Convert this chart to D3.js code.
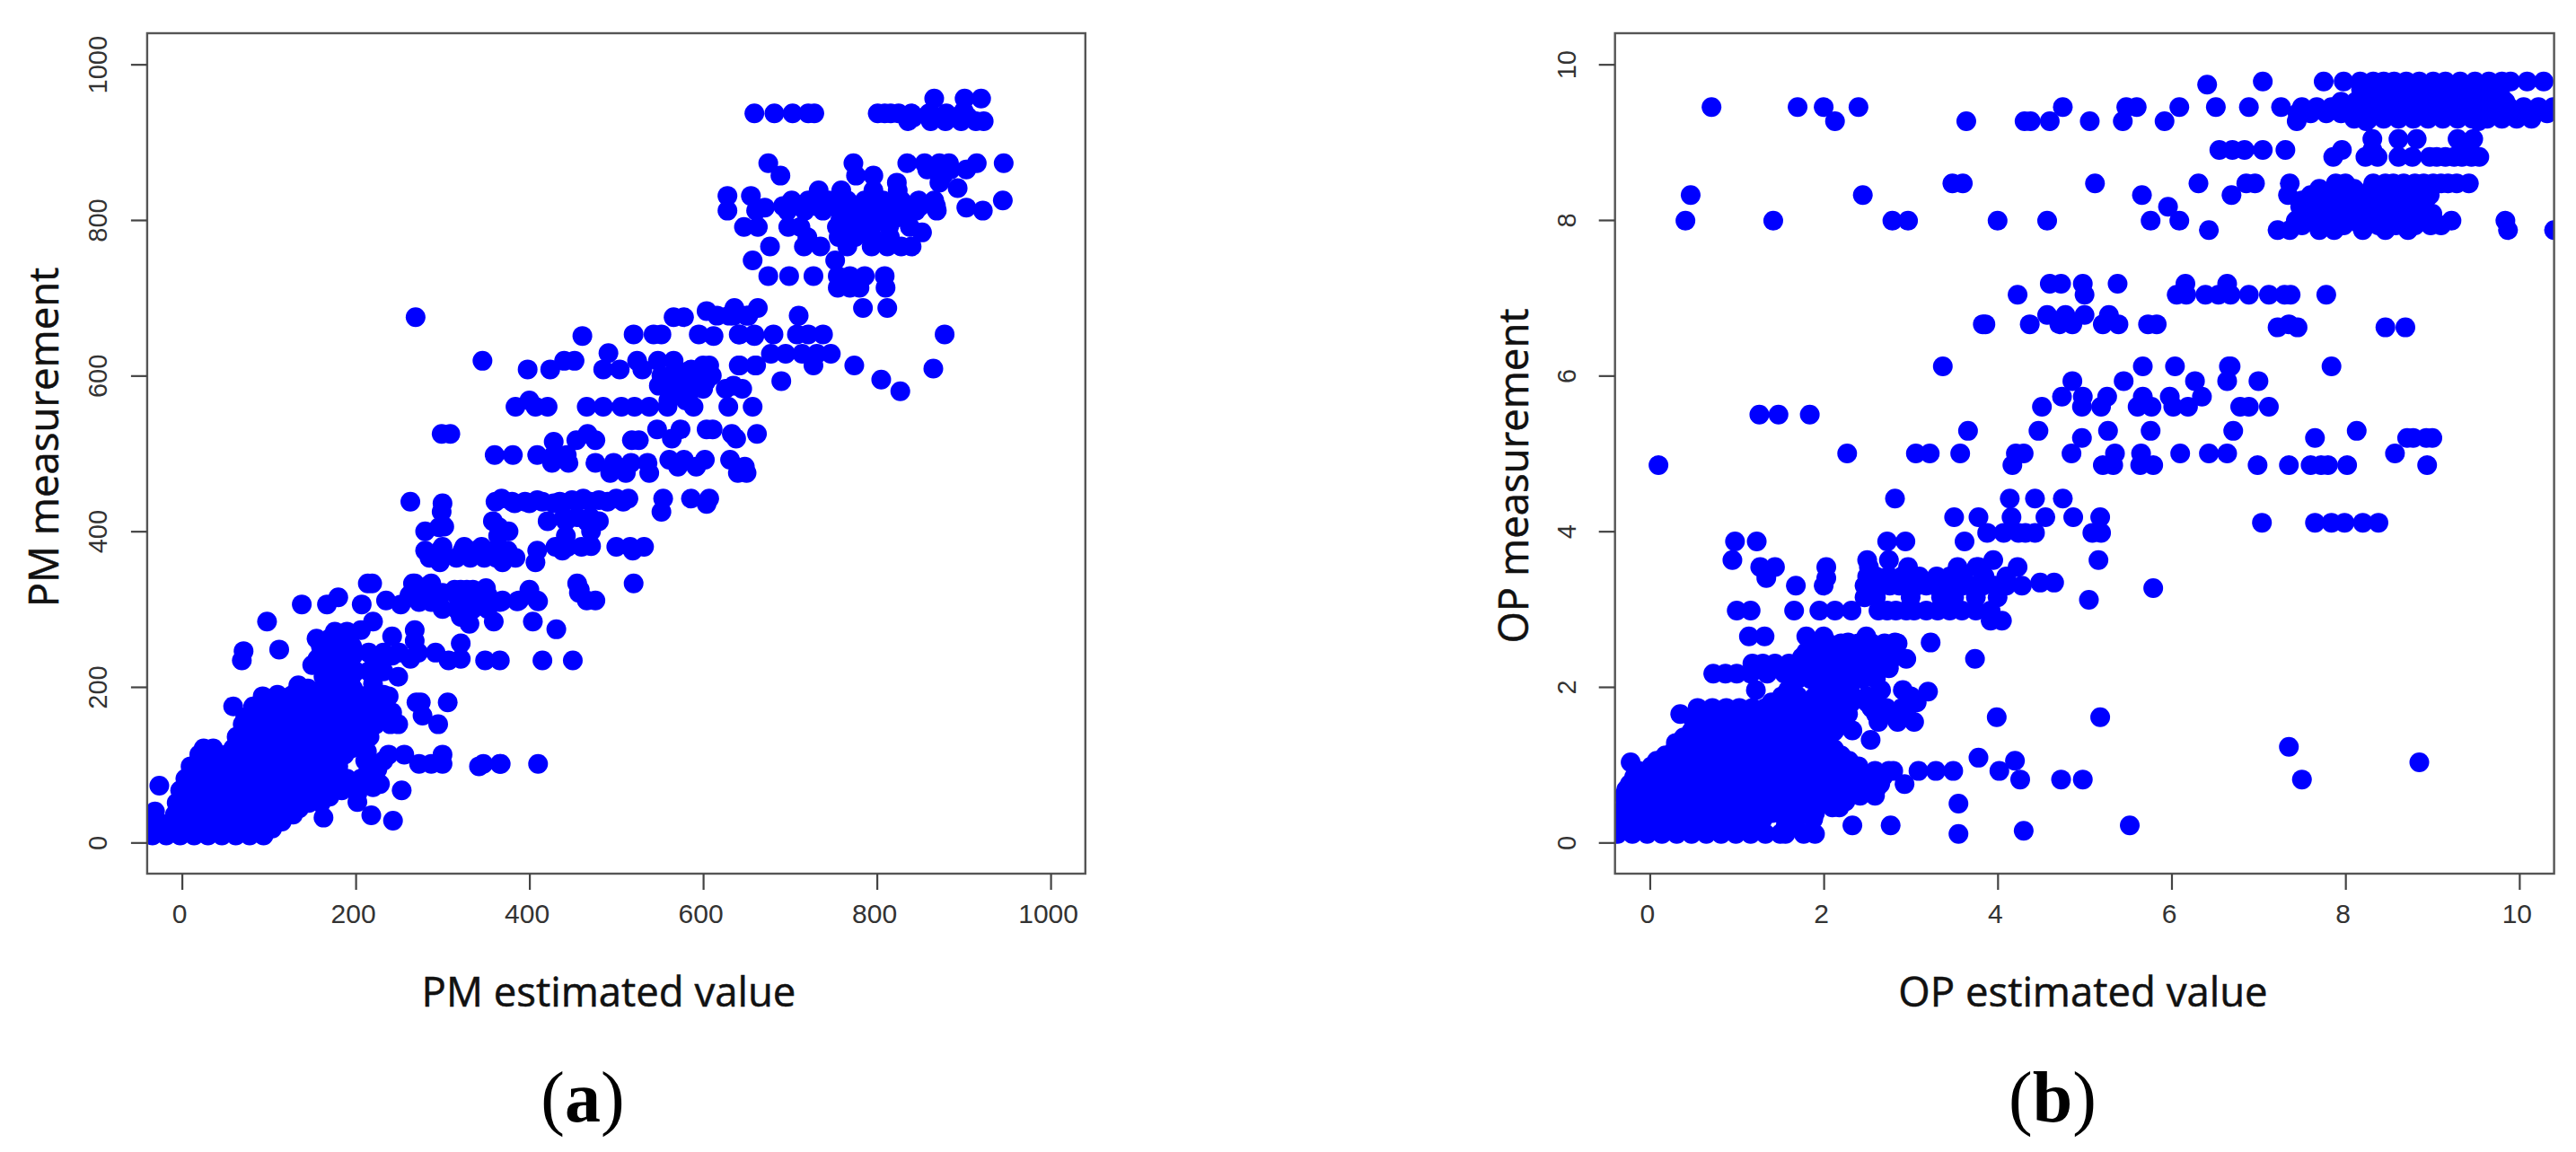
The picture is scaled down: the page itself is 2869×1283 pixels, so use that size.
<!DOCTYPE html>
<html><head><meta charset="utf-8">
<script src="https://cdnjs.cloudflare.com/ajax/libs/d3/7.8.5/d3.min.js"></script>
<style>html,body{margin:0;padding:0;background:#fff}svg{display:block}</style>
</head><body><svg id="c" width="2869" height="1283"></svg>
<script>
// tick labels
const pmTicks = [0,200,400,600,800,1000];
const opTicks = [0,2,4,6,8,10];
// PM: measurement levels and the estimated values seen at each level
const pmMeasured = [956,940,937,927,873,857,848,841,838,831,825,816,812,791,784,766,748,728,713,687,683,677,675,653,651,629,628,619,613,609,608,595,593,587,583,580,575,560,531,525,519,517,515,498,492,488,483,475,442,440,438,436,435,425,413,406,400,394,381,375,360,333,331,327,325,321,315,311,310,309,306,290,284,281,274,273,271,265,262,259,256,248,246,244,240,236,234,228,213,206,204,202,198,194,188,186,182,180,179,175,167,163,161,152,136,121,117,113,105,101,98,94,90,75,73,71,67,63,59,52,44,40,35,32,28,27,9,
 818,800,778,720,600,592,568,366,380,318,300,244,252,220,190,175,160,144,128,113,98,82,67,51,36,18,932,865,438,418,405];
const pmEstimated = [
[866,901,920],[900],[659,682,703,721,728,801,809,816,825,840,860,880],[836,862,879,897,914,923],
[675,773,835,855,872,883,915,946],[689,776,796,876],[823,872],[893],[733,759,796,824],[628,655],
[702,721,745,766,786,807,828,848,866,945],[671,903],[628,661,697,717,738,759,780,800,821,845,869,922],
[647,663,698,712,754,772,793,814,838],[852],[677,716,735,766,794,812,828,840],[657,752],[675,699,727,755,769,786,809],
[755,769,780,810],[636,663,784,812],[604],[616,635,652,630,650,710],[269,566,578],
[641,681,708,721,738,878,520,543,552,595,642,659],[461,612,659],[491],[678,695,714,731,747],
[346,440,452,524,548,566],[641,661,727,774,600,607,642,660],[865],[398,424,485,504,530,569,586,605],[805,600],[690],
[549,635],[566,583,600,626,645],[827],[566,583],[384,407,421,466,485,506,521,538,559,589,629,657],
[547,574,604,611],[299,309,467,633,662],[564,638],[454,476,518,526],[428],[360,381,409,428,443],[561,578,602,631],
[426,445,476,497,517,536],[571,592,648],[493,511,538,640,650],[368,462,500,514,554,586,607],[409,449,480],[263,361],
[300,383,400,428],[604],[299,552],[358,421,442,466,480],[302],[280,376,471],[364,442],[471],
[280,297,323,338,359,375,409,438,519],[297,369,407],[268,287,455,520,214,219,266],[285],[350],[321,335,400,314,328,458],
[300,457],[180],[369,388,409,466,476,235],[368,386,410],[273,287,321,345,366],[138,167,207,252],[321],[98,220,359,404],[331],
[431],[206,268],[176,190],[242],[155,170,185],[268],[321],[112,161],[71],[292],[176,197,242],[156,221,263,321],
[69,307,349,366,415,450],[150,165,180],[163,249,180,195],[180],[220],[134],[197,145,165],[156],[93,238,125,142,159,176,193,210,227],
[176],[108],[275,306,270],[204],[59,94,225],[122,139,156,173,190,207,224,242],[277],[73],
[70,87,104,121,138,155,172,189,206,223,240,249,295],[63,80,97,114,131,148,165,182,199,216],
[59,76,93,110,127,144,161,178,195,25,36],[213],[238,256,300],[25,42,59,76,93,110,127,144,161,178,211,232],
[273,287,300,347,366,410,367],[342],[225],[13,30,47,64,81,98,115,132,149,166,180,214],
[6,23,40,57,74,91,108,125,142,159,176,193,210,228],[-26],[220,180],[253],[202],[1,18,35,52,69,86,103,120,137,154,170],
[202,142],[1,18,35,52,69,86,103,120,135],[-31],[218,121],[163],[243,108],[-44,-28,-12,4,20,36,52,68,84,100,115],
[-34,-18,-2,14,30,46,62,78,94],
[692,710,730,750,770,790,810,830,850,868],[758,778,798,818,835],[720,756,775,795,815],[762,775],[552,566,580,595,610],[556,572,590,603],[400,560,580],
[285,300,316,332,348,362,384],[300,325,345,430,444,460,500,516,532],[262,280,298,316,334,352],[300,316,335,352],[215,232,250,272],[160,178,196],[170,186,200,215,232],
[110,128,145,162,180,198,215,232],[82,98,114,131,148,165,182,199,216,233],[78,95,112,129,146,163,180,197,214,231],
[72,89,106,123,140,157,174,191,208],[68,85,102,119,136,153,170,187,204],[20,35,51,68,85,102,119,136,153,170,187],
[10,27,44,61,78,95,112,129,146,163,180],[4,20,37,54,71,88,105,122,139,156,173,190,206],[-2,15,32,49,66,83,100,117,134,151,168,184],
[-6,10,27,44,61,78,95,112,129,146,160],[-8,10,27,44,61,78,95,112,128],[-40,-24,-8,8,24,40,56,72,88,104],
[842,870,888,905],[858,868,885,903],[380,395,415,435,455,470,490,508],[440,455,470],[296,365]
];
// OP: measurement levels and the estimated values seen at each level
const opMeasured = [9.78,9.74,9.68,9.58,9.45,9.3,9.27,9.04,8.95,8.9,8.81,8.47,8.32,8.17,7.99,7.87,7.18,7.04,6.78,6.66,6.62,6.12,5.93,5.73,5.6,5.5,5.29,5.2,5.0,4.85,4.42,4.18,4.11,3.98,3.87,3.63,3.54,3.4,3.34,3.3,3.27,3.12,2.98,2.85,2.65,2.57,2.45,2.36,2.3,2.17,1.96,1.94,1.8,1.65,1.61,1.55,1.5,1.44,1.35,1.32,1.23,1.2,1.09,1.05,1.03,0.92,0.81,0.75,0.6,0.5,0.45,0.3,0.22,0.15,0.11,
 9.72,9.62,9.52,9.37,8.4,8.25,8.08,7.93,3.42,3.15,2.56,2.38,2.24,2.1,1.88,1.73,1.58,1.43,1.28,1.12,0.98,0.84,0.68,0.53,0.38,0.28,0.2,8.47,3.3,2.98,8.81];
const opEstimated = [
[7.05,7.75,7.98,8.17,8.32,8.44,8.56,8.7,8.85,9.01,9.15,9.32,9.49,9.65,9.8,9.9,10.09,10.28],[6.41],
[8.18,8.35,8.5,8.65,8.8,8.95,9.1,9.25,9.4,9.55,9.7],[8.3,8.47,8.64,8.81,8.98,9.15,9.32,9.49,9.66,9.76],
[0.71,1.7,2.0,2.4,4.75,5.48,5.6,6.09,6.51,6.89,7.26,7.5,7.67,7.84,8.01,8.18,8.35,8.52,8.69,8.86,9.03,9.2,9.37,9.54,9.71,9.88,10.05,10.22,10.39],
[8.1,8.27,8.44,8.61,8.78,8.95,9.12,9.29,9.46,9.63,9.8,9.97,10.14],[2.13,3.64,4.31,4.38,4.6,5.06,5.44,5.92,7.44,8.24,9.53],
[8.31,8.61,8.82,9.29,9.47],[9.39],[6.55,6.7,6.84,7.05,7.31,7.96,8.31],[7.86,8.23,8.37,8.61,8.77,8.97,9.15,9.34,9.54],
[3.48,3.6,5.12,6.31,6.86,6.96,7.36,7.89,8.0,8.32,8.46,8.67,8.8,9.01,9.18,9.42],
[0.47,2.45,5.66,6.69,7.34,7.6,7.8,8.01,8.22,8.42,8.63,8.84,8.97],[5.96,7.48,7.67,7.87,8.08,8.29,8.49,8.7,8.91],
[0.41,1.42,2.79,2.97,4.0,4.57,5.76,6.09,7.43,7.67,7.87,8.08,8.29,8.49,8.7,8.96,9.22,9.84],
[6.43,7.22,7.36,7.7,7.87,8.2,8.46,8.72,9.87,10.4],[4.6,4.73,4.98,5.38,6.16,6.64],
[4.23,5.0,6.06,6.17,6.39,6.54,6.68,6.89,7.12,7.3,7.37,7.78],[4.57,4.78,5.0,5.28],
[3.83,3.86,4.37,4.71,4.86,5.21,5.39,5.73,5.83,7.35],[7.22,7.45,8.46,8.69],[3.37,5.67,6.04,6.66,6.68,7.84],
[4.86,5.45,6.27,6.64,7.0],[4.74,4.98,5.26,5.67,5.98,6.35],[4.51,4.97,5.19,5.61,5.77,6.02,6.19,6.79,6.89,7.12],
[1.26,1.48,1.84],[3.66,4.47,5.27,5.76,6.71,8.13],[4.97,7.65,8.71,8.78,8.93,9.0],
[2.27,3.06,3.22,3.57,4.21,4.3,4.85,5.35,5.65,6.1,6.43,6.64,8.57],[0.1,4.17,5.21,5.33,5.64,5.79,6.99,7.35,7.6,7.72,7.8,8.02,8.94],
[2.82,4.14,4.43,4.75],[3.5,3.78,4.16,4.55,4.87,5.18],[7.04,7.65,7.84,7.99,8.2,8.38],[3.88,4.07,4.24,4.43,5.09,5.19,4.32],
[0.98,1.23,2.73,2.94,3.62],[0.95,2.5,2.75,3.95,5.16],[1.27,1.44,2.03,2.52,2.97,3.54,3.78,4.23,3.76],[1.34,2.03,2.68],[4.49,4.65],
[2.0,1.68,2.47,2.66,2.87,3.07,3.28,3.49,3.7,3.97,4.28],[5.79],[5.05],
[1.0,1.16,1.66,1.95,2.13,2.32,2.63,2.83,3.04,3.31,3.59,3.92],[3.92,4.05],[1.14,1.32,1.8,2.0,2.49],[2.28,2.82,3.23],
[1.8,1.98,2.16,2.34,2.52,2.7],[3.74,2.95],[1.18,1.3,1.44,1.6,1.78,1.96,2.14,2.32,2.5,2.68,2.75],
[0.73,0.87,1.0,1.16,1.35,1.55,1.75,1.95,2.15,2.35,2.55],[1.22,1.59,2.0,2.15,2.3,2.66,2.91],[3.2],
[1.4,1.55,1.75,1.95,2.15,2.32,2.5,2.6,3.07],[0.35,0.56,0.8,0.95,1.1,1.25,1.4,1.55,1.7,1.85,2.0,2.15,2.28,2.6,2.8,2.95],[3.99,5.18],
[2.63,2.85,3.04],[0.63,0.8,0.97,1.14,1.31,1.48,1.65,1.82,2.0],[2.33],[0.39,0.56,0.73,0.9,1.07,1.24,1.41,1.58,1.75,1.92,2.04],[2.54],[7.35],
[0.29,0.46,0.63,0.8,0.97,1.14,1.31,1.48,1.65,1.82,1.99,2.12],[3.78],[0.08,0.25,0.42,0.59,0.76,0.93,1.1,1.27,1.44,1.61,1.78,1.95,2.12,2.29,4.2],
[-0.22,8.85],[-0.13,0.04,0.21,0.38,0.55,0.72,0.89,1.06,1.23,1.4,1.57,1.74,1.91,2.08,2.25,2.42,2.59,2.75,2.8,3.09,3.29,3.49,4.02],[4.26,4.73,4.98,7.5],
[-0.23,-0.06,0.11,0.28,0.45,0.62,0.79,0.96,1.13,1.3,1.47,1.64,1.81,1.98,2.15,2.32,2.49,2.65,2.93],
[-0.3,-0.13,0.04,0.21,0.38,0.55,0.72,0.89,1.06,1.23,1.4,1.57,1.74,1.91,2.08,2.25,2.42,2.59],[3.55],
[-0.2,-0.03,0.14,0.31,0.48,0.65,0.82,0.99,1.16,1.33,1.5,1.67,1.8,2.1,2.18],[-0.2,-0.03,0.14,0.31,0.48,0.65,0.82,0.99,1.16,1.3,1.56,1.88],
[2.33,2.77,5.52],[4.3],[-0.37,-0.2,-0.03,0.14,0.31,0.48,0.65,0.82,0.99,1.16,1.33,1.5,1.56,1.77,1.9,3.55],
[8.3,8.48,8.62,8.78,8.93,9.08,9.22,9.38,9.55,9.72],[8.25,8.42,8.58,8.72,8.88,9.02,9.18,9.35,9.52,9.68,9.78],[7.95,8.12,8.28,8.44,8.6,8.76,8.92,9.08,9.24,9.4,9.56,9.72,9.84],[7.45,7.6,7.78,7.95,8.12,8.3,8.46,8.62,8.8,8.96,9.14,9.3,9.48,9.66,9.82,9.98,10.15,10.32],
[7.7,7.9,8.1,8.3,8.5,8.7,8.9,8.97],[7.5,7.7,7.9,8.1,8.32,8.52,8.72,8.92],[7.58,7.77,7.97,8.18,8.38,8.58,8.78,8.97,9.0],[7.5,7.78,7.98,8.18,8.38,8.58,8.8,8.98,9.1],
[2.5,2.6,2.75,2.9,3.1,3.3,3.45,3.6,3.85,4.1],[2.47,2.6,3.0,3.35,3.5,3.75,4.0],[1.85,2.05,2.2,2.4,2.55,2.7,2.85],[1.75,1.9,2.1,2.25,2.4,2.6,2.8],[1.25,1.45,1.7,1.88,2.05,2.2,2.4,2.6,2.75],[1.7,1.85,2.05,2.25,2.45,2.6],
[1.52,1.7,1.9,2.1,2.3,2.5,3.0],[0.55,0.72,0.88,1.03,1.18,1.33,1.48,1.63,1.78,1.93,2.08,2.22,2.55,2.72,2.9],[0.5,0.72,0.88,1.06,1.23,1.4,1.57,1.74,1.9,2.1,2.2],
[0.48,0.63,0.8,0.97,1.14,1.31,1.48,1.65,1.82,1.98,2.12],[0.3,0.47,0.64,0.81,0.98,1.15,1.32,1.49,1.66,1.83,2.0],[0.18,0.35,0.52,0.69,0.86,1.03,1.2,1.37,1.54,1.71,1.88,2.05,2.2],
[0.02,0.19,0.36,0.53,0.7,0.87,1.04,1.21,1.38,1.55,1.72,1.89,2.06,2.23,2.4],[-0.18,-0.02,0.15,0.32,0.49,0.66,0.83,1.0,1.17,1.34,1.51,1.68,1.85,2.02,2.19,2.36,2.53,2.68],
[-0.27,-0.1,0.07,0.24,0.41,0.58,0.75,0.92,1.09,1.26,1.43,1.6,1.77,1.94,2.11,2.28,2.45,2.6],[-0.28,-0.11,0.06,0.23,0.4,0.57,0.74,0.91,1.08,1.25,1.42,1.59,1.76,1.93,2.1,2.25],
[-0.38,-0.12,0.05,0.22,0.39,0.56,0.73,0.9,1.07,1.24,1.41,1.58,1.75,1.9],[-0.38,-0.12,0.05,0.22,0.39,0.56,0.73,0.9,1.07,1.24,1.6,1.68],[-0.3,-0.12,0.05,0.22,0.39,0.56,0.73,0.9,1.07,1.24,1.56],
[8.55,8.9,9.1,9.28],[2.76,2.97,3.18,3.38,3.6,3.83,4.1],[2.73,2.95,3.18,3.45,3.75],[9.05,9.25,9.45]
];

const svg = d3.select('#c');
const axisDark = '#444', tickInk = '#333';
const titleFont = '"Open Sans","Noto Sans",sans-serif';

function panel(cfg){
  const x = d3.scaleLinear().domain(cfg.xDomain).range(cfg.xRange);
  const y = d3.scaleLinear().domain(cfg.yDomain).range([973,37]);
  const id = 'clip-'+cfg.key;
  svg.append('clipPath').attr('id',id).append('rect')
    .attr('x',cfg.xRange[0]).attr('y',37).attr('width',cfg.xRange[1]-cfg.xRange[0]).attr('height',936);
  const pts = cfg.levels.flatMap((lv,i)=>cfg.values[i].map(v=>[v,lv]));
  svg.append('g').attr('clip-path',`url(#${id})`).selectAll('circle').data(pts).join('circle')
    .attr('cx',d=>x(d[0])).attr('cy',d=>y(d[1])).attr('r',11).attr('fill','#0000ff');
  svg.append('rect').attr('x',cfg.xRange[0]).attr('y',37).attr('width',cfg.xRange[1]-cfg.xRange[0]).attr('height',936)
    .attr('fill','none').attr('stroke','#555').attr('stroke-width',2.4);
  const fmt = d3.format('d');
  const gx = svg.append('g').attr('transform','translate(0,973)').call(d3.axisBottom(x).tickValues(cfg.ticks).tickFormat(fmt).tickSize(18).tickPadding(16).tickSizeOuter(0));
  gx.select('.domain').remove();
  gx.selectAll('line').attr('stroke',axisDark).attr('stroke-width',2.2);
  gx.selectAll('text').attr('font-family','"Liberation Sans",Arial,sans-serif').attr('font-size',30).attr('fill',tickInk).attr('dx',-3);
  const gy = svg.append('g').attr('transform',`translate(${cfg.xRange[0]},0)`).call(d3.axisLeft(y).tickValues(cfg.ticks).tickFormat(fmt).tickSize(18).tickSizeOuter(0));
  gy.select('.domain').remove();
  gy.selectAll('line').attr('stroke',axisDark).attr('stroke-width',2.2);
  gy.selectAll('text').attr('font-family','"Liberation Sans",Arial,sans-serif').attr('font-size',29).attr('fill',tickInk)
    .attr('text-anchor','middle').attr('dy',0).attr('dominant-baseline','central')
    .attr('x',0).attr('y',0).attr('transform',`translate(${cfg.yLabelX-cfg.xRange[0]},0) rotate(-90)`);
  svg.append('text').text(cfg.xTitle).attr('x',cfg.xTitleX).attr('y',1121).attr('text-anchor','middle')
    .attr('font-family',titleFont).attr('font-size',cfg.titleSize).attr('fill','#111').attr('stroke','#111').attr('stroke-width',0.5);
  svg.append('text').text(cfg.yTitle).attr('transform',`translate(${cfg.yTitleX},${cfg.yTitleY}) rotate(-90)`).attr('text-anchor','middle')
    .attr('font-family',titleFont).attr('font-size',cfg.titleSize).attr('fill','#111').attr('stroke','#111').attr('stroke-width',0.5);
  const cap = svg.append('text').attr('x',cfg.capX).attr('y',1249).attr('text-anchor','middle')
    .attr('font-family','"Liberation Serif",serif').attr('font-size',80).attr('fill','#000');
  cap.append('tspan').text('(');
  cap.append('tspan').text(cfg.cap).attr('font-weight','bold');
  cap.append('tspan').text(')');
}
panel({key:'pm',xDomain:[-40,1040],yDomain:[-40,1040],xRange:[163.9,1208.8],ticks:pmTicks,levels:pmMeasured,values:pmEstimated,
  xTitle:'PM estimated value',yTitle:'PM measurement',xTitleX:678,yTitleX:65,yTitleY:487,yLabelX:109,titleSize:45.5,capX:649,cap:'a'});
panel({key:'op',xDomain:[-0.4,10.4],yDomain:[-0.4,10.4],xRange:[1798.7,2844.6],ticks:opTicks,levels:opMeasured,values:opEstimated,
  xTitle:'OP estimated value',yTitle:'OP measurement',xTitleX:2320,yTitleX:1702,yTitleY:530,yLabelX:1745,titleSize:45.5,capX:2286,cap:'b'});
</script></body></html>
